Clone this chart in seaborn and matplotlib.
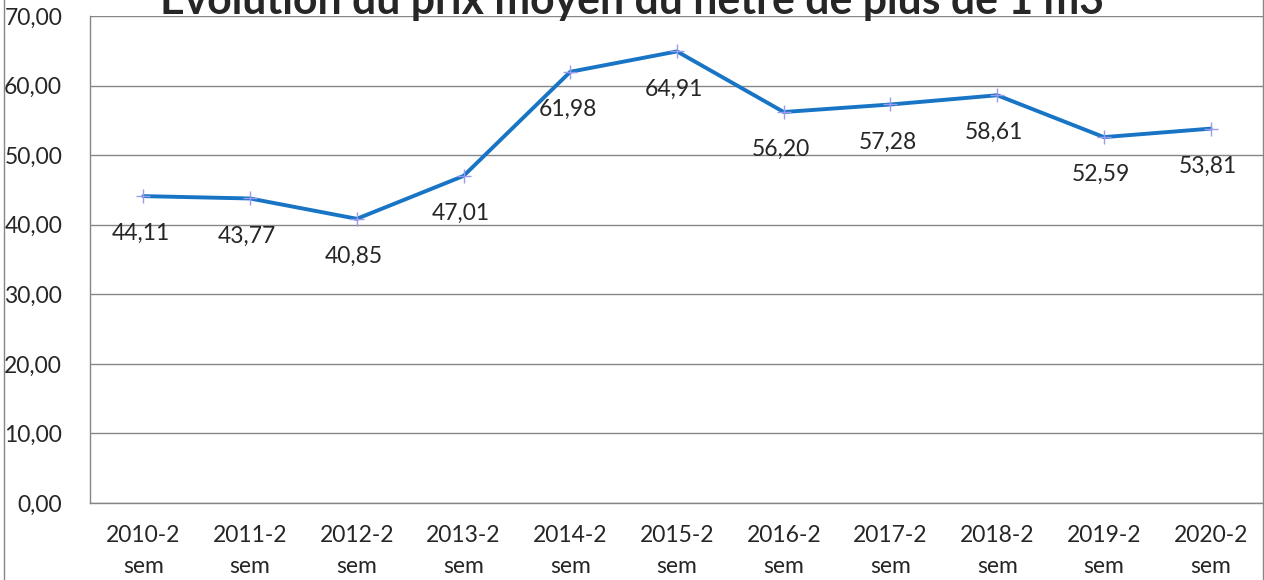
import seaborn as sns
import matplotlib.pyplot as plt
from matplotlib.patches import Rectangle
import pandas as pd

# données
periodes = ['2010-2\nsem', '2011-2\nsem', '2012-2\nsem', '2013-2\nsem', '2014-2\nsem',
            '2015-2\nsem', '2016-2\nsem', '2017-2\nsem', '2018-2\nsem', '2019-2\nsem',
            '2020-2\nsem']
prix = [44.11, 43.77, 40.85, 47.01, 61.98, 64.91, 56.20, 57.28, 58.61, 52.59, 53.81]
y_ticks = [0, 10, 20, 30, 40, 50, 60, 70]
titre = 'Evolution du prix moyen du hêtre de plus de 1 m3'

sns.set_style('white')
plt.rcParams['font.family'] = ['Lato', 'DejaVu Sans']
taille = 16.5

df = pd.DataFrame({'periode': periodes, 'prix': prix})

fig = plt.figure(figsize=(12.64, 5.8), dpi=100)
ax = fig.add_axes([90 / 1264, 1 - 503 / 580, 1 - 90 / 1264, (503 - 16) / 580])

sns.lineplot(data=df, x='periode', y='prix', ax=ax, sort=False, color='#1874C4',
             linewidth=2.8, marker='+', markersize=10, markeredgecolor='#9A9AEE',
             markeredgewidth=1.0, zorder=3)

ax.set_xlim(-0.5, len(periodes) - 0.5)
ax.set_ylim(0, 70)
ax.set_yticks(y_ticks)
ax.set_yticklabels([f'{v:.2f}'.replace('.', ',') for v in y_ticks])
ax.set_xticks(range(len(periodes)))
ax.set_xticklabels(periodes, linespacing=1.6)
ax.set_xticks([i - 0.5 for i in range(len(periodes) + 1)], minor=True)
ax.tick_params(axis='x', which='major', length=0, pad=16, labelsize=taille)
ax.tick_params(axis='x', which='minor', length=7, color='#868686', width=1)
ax.tick_params(axis='y', length=7, color='#868686', width=1, pad=13, labelsize=taille)
ax.set_xlabel('')
ax.set_ylabel('')

ax.grid(axis='y', color='#868686', linewidth=1)
for s in ['top', 'right']:
    ax.spines[s].set_visible(False)
for s in ['left', 'bottom']:
    ax.spines[s].set_color('#868686')
    ax.spines[s].set_linewidth(1)

for i, v in enumerate(prix):
    ax.annotate(f'{v:.2f}'.replace('.', ','), (i, v), xytext=(-2, -27),
                textcoords='offset points', ha='center', va='center', fontsize=taille)

# titre coupé en haut comme sur l'original, largeur ~945 px
t = fig.text(632 / 1264, 1 - 14 / 580, titre, ha='center', va='baseline',
             fontsize=30, fontweight='bold')
fig.canvas.draw()
largeur = t.get_window_extent().width
t.set_fontsize(30 * 945 / largeur)

# cadre du graphique
fig.patches.append(Rectangle((4 / 1264, -0.1), (1263 - 4) / 1264, 1.2, transform=fig.transFigure,
                             fill=False, edgecolor='#868686', linewidth=1))

fig.savefig('out.png', dpi=100)
